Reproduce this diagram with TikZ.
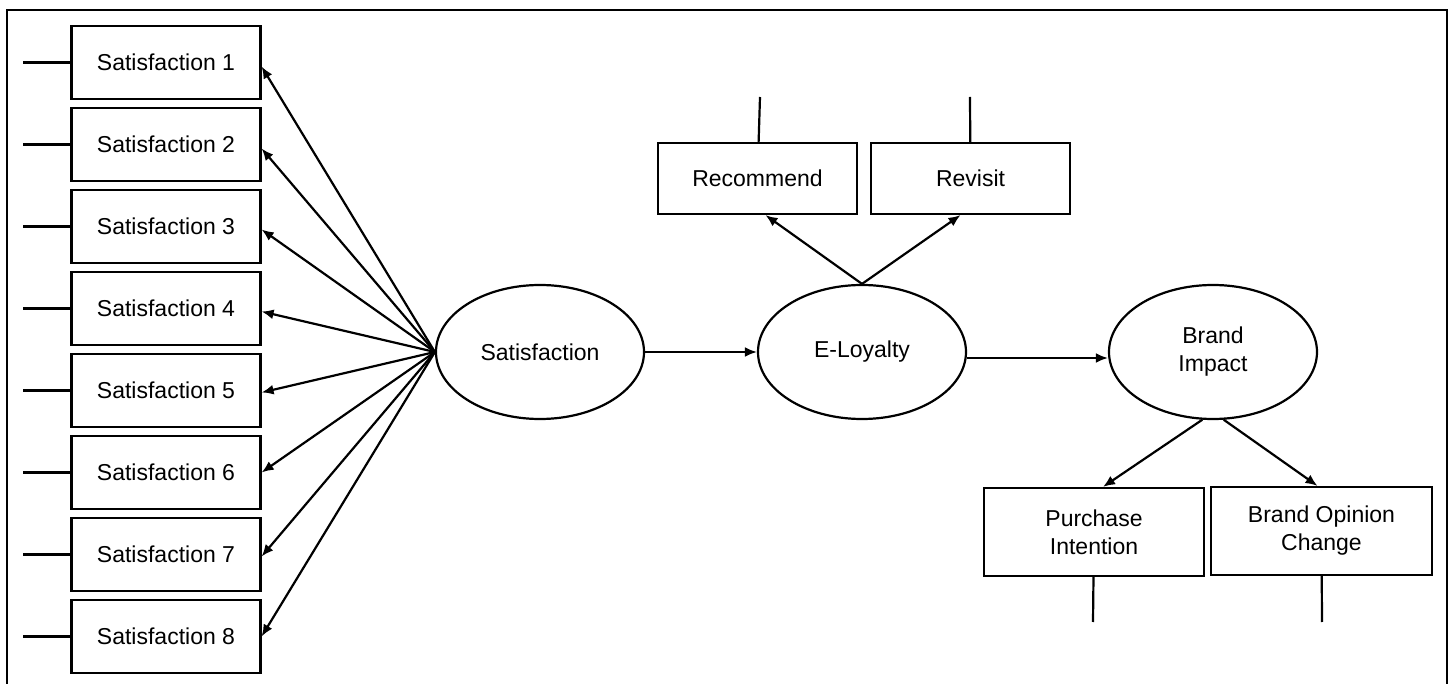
\documentclass[tikz,border=0pt]{standalone}
\usepackage{fontspec}
\setmainfont{Liberation Sans}
\usepackage{tikz}
\usetikzlibrary{arrows.meta,shapes.geometric}

\begin{document}
\begin{tikzpicture}[->,>={Latex[length=6pt,width=5pt]},auto,node distance=41pt,line width=1.1pt,
                    x=0.5pt,y=-0.5pt]
  \tikzstyle{every node}=[font=\fontsize{11.5}{14}\selectfont]
  \tikzstyle{obs}=[rectangle,draw=black,fill=white,align=center,inner sep=2pt]
  \tikzstyle{lat}=[ellipse,draw=black,fill=white,align=center,inner sep=0pt,
                   minimum width=104pt,minimum height=67pt]

  \useasboundingbox (0,0) rectangle (1453,684);
  \draw[-] (7,684) -- (7,10) -- (1447,10) -- (1447,684);

  \node[obs,minimum width=94.5pt,minimum height=36.5pt] (S1) at (166,62.5) {Satisfaction 1};
  \node[obs,minimum width=94.5pt,minimum height=36.5pt] (S2) [below of=S1] {Satisfaction 2};
  \node[obs,minimum width=94.5pt,minimum height=36.5pt] (S3) [below of=S2] {Satisfaction 3};
  \node[obs,minimum width=94.5pt,minimum height=36.5pt] (S4) [below of=S3] {Satisfaction 4};
  \node[obs,minimum width=94.5pt,minimum height=36.5pt] (S5) [below of=S4] {Satisfaction 5};
  \node[obs,minimum width=94.5pt,minimum height=36.5pt] (S6) [below of=S5] {Satisfaction 6};
  \node[obs,minimum width=94.5pt,minimum height=36.5pt] (S7) [below of=S6] {Satisfaction 7};
  \node[obs,minimum width=94.5pt,minimum height=36.5pt] (S8) [below of=S7] {Satisfaction 8};

  \node[lat] (Sat) at (540,352) {Satisfaction};
  \node[lat] (EL)  at (862,352) {E-Loyalty};
  \node[lat] (BI)  at (1213,352) {Brand\\Impact};

  \node[obs,minimum width=99.5pt,minimum height=35.5pt] (Rec) at (757.5,178.5) {Recommend};
  \node[obs,minimum width=99.5pt,minimum height=35.5pt] (Rev) at (970.5,178.5) {Revisit};
  \node[obs,minimum width=110pt,minimum height=44pt] (PI)  at (1094,532) {Purchase\\Intention};
  \node[obs,minimum width=110.5pt,minimum height=44pt] (BOC) at (1321.5,531) {Brand Opinion\\Change};

  % error terms
  \coordinate (e1) at (23,62.5);
  \coordinate (e2) at (23,144.5);
  \coordinate (e3) at (23,226.5);
  \coordinate (e4) at (23,308.5);
  \coordinate (e5) at (23,390.5);
  \coordinate (e6) at (23,472.5);
  \coordinate (e7) at (23,554.5);
  \coordinate (e8) at (23,636.5);
  \coordinate (eRec) at (760,97);
  \coordinate (eRev) at (970,97);
  \coordinate (ePI)  at (1093,622);
  \coordinate (eBOC) at (1322,622);

  \path[-] (e1) edge (S1) (e2) edge (S2) (e3) edge (S3) (e4) edge (S4)
           (e5) edge (S5) (e6) edge (S6) (e7) edge (S7) (e8) edge (S8)
           (eRec) edge (Rec) (eRev) edge (Rev)
           (ePI) edge (PI) (eBOC) edge (BOC);

  \path (Sat.west) edge ([yshift=-2pt]S1.east)
                   edge ([yshift=-2pt]S2.east)
                   edge ([yshift=-1.5pt]S3.east)
                   edge ([yshift=-1.5pt]S4.east)
                   edge ([yshift=-1pt]S5.east)
                   edge (S6.east)
                   edge ([yshift=-1pt]S7.east)
                   edge (S8.east)
        (Sat) edge (EL)
        ([yshift=-3pt]EL.east) edge ([yshift=-3pt]BI.west)
        (EL.north) edge ([xshift=4pt]Rec.south)
                   edge ([xshift=-5pt]Rev.south)
        (BI.-99) edge ([xshift=4.5pt]PI.north)
        (BI.-81) edge ([xshift=-2pt]BOC.north);
\end{tikzpicture}
\end{document}
